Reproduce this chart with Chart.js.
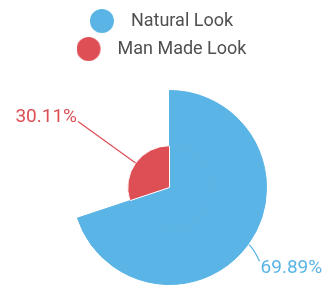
<!DOCTYPE html>
<html>
<head>
<meta charset="utf-8">
<script src="https://cdn.jsdelivr.net/npm/chart.js@4/dist/chart.umd.min.js"></script>
<style>
  html, body { margin: 0; padding: 0; background: #fff; }
  canvas { display: block; }
</style>
</head>
<body>
<canvas id="chart" width="323" height="285"></canvas>
<script>
const categories = ["Natural Look", "Man Made Look"];
const shares = [69.89, 30.11];
const sliceColors = ["#5ab4e5", "#dd4e55"];

// legend dot: circle sits at the left of a wider box so the text gets its gap
function dot(color) {
  const c = document.createElement("canvas");
  c.width = 32;
  c.height = 26;
  const g = c.getContext("2d");
  g.fillStyle = color;
  g.beginPath();
  g.arc(12, 13, 12, 0, Math.PI * 2);
  g.fill();
  return c;
}

// rose pie: the bigger slice gets the outer ring too
const big = shares[0] >= shares[1] ? 0 : 1;
const small = 1 - big;

const pctLabels = {
  id: "pctLabels",
  afterDatasetsDraw(chart) {
    const ctx = chart.ctx;
    const outer = chart.getDatasetMeta(0).data;
    const inner = chart.getDatasetMeta(1).data;
    ctx.save();
    ctx.font = "19px Roboto";
    ctx.lineWidth = 1.2;
    categories.forEach((name, i) => {
      const arc = i === big ? outer[i] : inner[i];
      const p = arc.getProps(["x", "y", "startAngle", "endAngle", "outerRadius"], true);
      const mid = (p.startAngle + p.endAngle) / 2;
      const dx = Math.cos(mid), dy = Math.sin(mid);
      const ex = p.x + dx * p.outerRadius, ey = p.y + dy * p.outerRadius;
      const text = shares[i].toFixed(2) + "%";
      ctx.strokeStyle = sliceColors[i];
      ctx.fillStyle = sliceColors[i];
      ctx.beginPath();
      if (dx < 0) {
        const tx = ex + dx * 71, ty = ey + dy * 71;
        ctx.moveTo(ex, ey);
        ctx.lineTo(tx, ty);
        ctx.stroke();
        ctx.textAlign = "right";
        ctx.textBaseline = "alphabetic";
        ctx.fillText(text, tx - 1, ty);
      } else {
        const cx = ex + dx * 6, cy = ey + dy * 6;
        const tx = cx + 6.5, ty = cy + 13.5;
        ctx.moveTo(ex + dx, ey + dy);
        ctx.quadraticCurveTo(cx, cy, tx, ty);
        ctx.stroke();
        ctx.textAlign = "left";
        ctx.textBaseline = "alphabetic";
        ctx.fillText(text, tx + 1, ty + 12);
      }
    });
    ctx.restore();
  }
};

Chart.defaults.font.family = "Roboto";

new Chart(document.getElementById("chart"), {
  type: "pie",
  data: {
    labels: categories,
    datasets: [
      {
        data: shares,
        weight: shares[big] - shares[small],
        backgroundColor: categories.map((c, i) => i === big ? sliceColors[i] : "rgba(0,0,0,0)"),
        borderColor: categories.map((c, i) => i === big ? sliceColors[i] : "rgba(0,0,0,0)"),
        borderWidth: 1
      },
      {
        data: shares,
        weight: shares[small],
        backgroundColor: sliceColors,
        borderColor: categories.map((c, i) => i === big ? sliceColors[i] : "#ffffff"),
        borderWidth: 1
      }
    ]
  },
  options: {
    responsive: false,
    animation: false,
    devicePixelRatio: 1,
    layout: { padding: { top: 2 } },
    plugins: {
      tooltip: { enabled: false },
      legend: {
        position: "top",
        labels: {
          usePointStyle: true,
          pointStyleWidth: 32,
          padding: 10,
          font: { family: "Roboto", size: 18 },
          generateLabels: chart => categories.map((text, i) => ({
            text,
            fillStyle: sliceColors[i],
            strokeStyle: sliceColors[i],
            lineWidth: 0,
            pointStyle: dot(sliceColors[i]),
            fontColor: "#505050",
            hidden: false,
            index: i
          }))
        }
      },
      // empty spacers that push the pie into place
      subtitle: {
        display: true, text: "", position: "top", weight: 500,
        font: { size: 1, lineHeight: 1 }, padding: { top: 21, bottom: 0 }
      },
      title: {
        display: true, text: "", position: "left", fullSize: false,
        font: { size: 1, lineHeight: 1 }, padding: { top: 15, bottom: 0 }
      }
    }
  },
  plugins: [pctLabels]
});
</script>
</body>
</html>
